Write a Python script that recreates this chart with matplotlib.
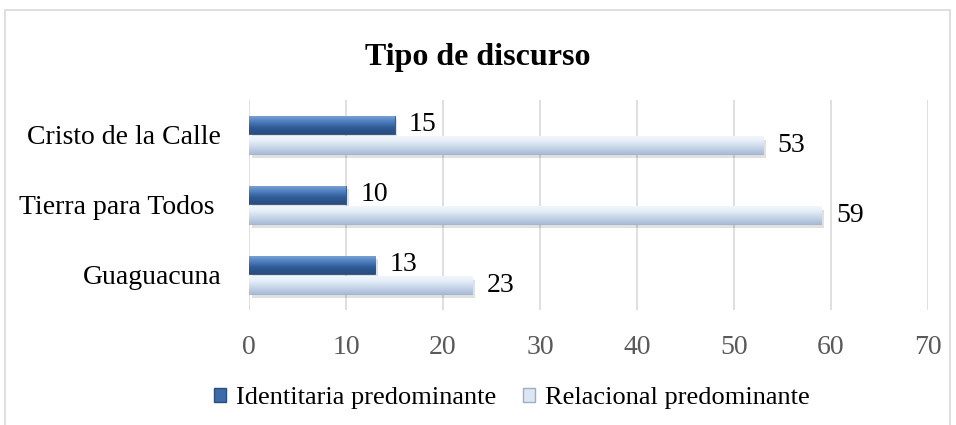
import matplotlib.pyplot as plt
import numpy as np
from matplotlib.colors import LinearSegmentedColormap
from matplotlib.patches import Rectangle

plt.rcParams['font.family'] = ['Liberation Serif', 'DejaVu Serif']

categories = ['Cristo de la Calle', 'Tierra para Todos ', 'Guaguacuna']
identitaria = [15, 10, 13]
relacional = [53, 59, 23]
series_names = ['Identitaria predominante', 'Relacional predominante']

fig = plt.figure(figsize=(9.56, 4.25), dpi=100)
# outer chart border
fig.patches.append(Rectangle((5 / 956, -0.01), 945 / 956, 1 - 10 / 425 + 0.01,
                             transform=fig.transFigure, fill=False,
                             edgecolor='#d9d9d9', linewidth=1.2))
ax = fig.add_axes([249 / 956, 1 - 310 / 425, (928 - 249) / 956, 210 / 425])

y = np.arange(len(categories))
h = 0.26
dark_cmap = LinearSegmentedColormap.from_list('dark', ['#7fa6d6', '#4f7fc0', '#2f5a94', '#284d7f'])
light_cmap = LinearSegmentedColormap.from_list('light', ['#f4f8fc', '#e4edf7', '#c6d4e8', '#a9bcd6'])

bars1 = ax.barh(y - h / 2 - 0.015, identitaria, height=h, color='#3d6aa8',
                edgecolor='#2a4e7e', linewidth=0.6, zorder=3)
bars2 = ax.barh(y + h / 2 + 0.015, relacional, height=h, color='#dce6f2',
                edgecolor='#9aaec8', linewidth=0.6, zorder=3)

grad = np.linspace(0, 1, 64).reshape(-1, 1)
for bars, cmap in [(bars1, dark_cmap), (bars2, light_cmap)]:
    for b in bars:
        x0, y0 = b.get_x(), b.get_y()
        w, bh = b.get_width(), b.get_height()
        # soft shadow
        ax.add_patch(Rectangle((x0 + 0.3, y0 + 0.05), w, bh, color='#000000',
                               alpha=0.12, zorder=2, linewidth=0))
        im = ax.imshow(grad, extent=(x0, x0 + w, y0 + bh, y0), aspect='auto',
                       cmap=cmap, zorder=3.5, interpolation='bicubic')
        im.set_clip_path(b)

for bars in (bars1, bars2):
    for b in bars:
        ax.text(b.get_width() + 1.5, b.get_y() + b.get_height() / 2,
                f'{int(b.get_width())}', va='center', ha='left',
                fontsize=20, color='black', zorder=5)

ax.set_xlim(0, 70)
ax.set_ylim(2.5, -0.5)
ax.set_xticks(np.arange(0, 71, 10))
ax.set_yticks(y)
ax.set_yticklabels(categories)
ax.tick_params(axis='x', length=0, pad=18, labelsize=20, labelcolor='#595959')
ax.tick_params(axis='y', length=0, pad=20, labelsize=20, labelcolor='black')
ax.xaxis.grid(True, color='#d9d9d9', linewidth=1.2, zorder=0)
ax.set_axisbelow(True)
for s in ax.spines.values():
    s.set_visible(False)

fig.text(0.5, 1 - 57 / 425, 'Tipo de discurso', ha='center', va='center',
         fontsize=23, fontweight='bold')

handles = [Rectangle((0, 0), 1, 1, facecolor='#3d6aa8', edgecolor='#2a4e7e'),
           Rectangle((0, 0), 1, 1, facecolor='#dce6f2', edgecolor='#9aaec8')]
fig.legend(handles, series_names, loc='center', bbox_to_anchor=(512 / 956, 1 - 398 / 425),
           ncol=2, frameon=False, fontsize=19, handlelength=0.45, handleheight=0.45,
           handletextpad=0.4, columnspacing=1.0)

fig.savefig('out.png', dpi=100)
